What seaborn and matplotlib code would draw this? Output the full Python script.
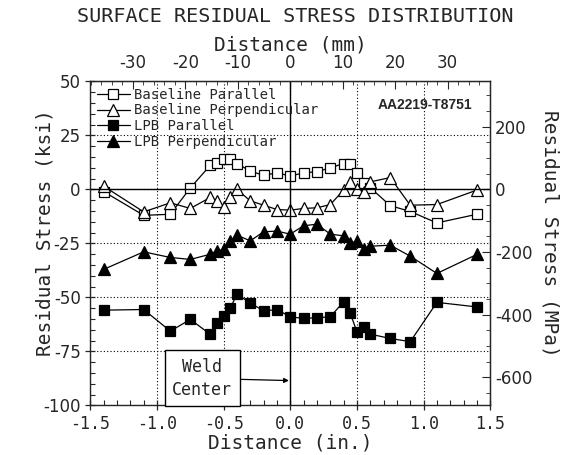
import numpy as np
import pandas as pd
import matplotlib
matplotlib.use('Agg')
import matplotlib.pyplot as plt
import seaborn as sns
from matplotlib.ticker import MultipleLocator, FixedLocator

# Dados (distancia em polegadas, tensao em ksi)
x_bp = [-1.4, -1.1, -0.9, -0.75, -0.6, -0.55, -0.5, -0.45, -0.4, -0.3, -0.2, -0.1, 0.0,
        0.1, 0.2, 0.3, 0.4, 0.45, 0.5, 0.55, 0.6, 0.75, 0.9, 1.1, 1.4]
y_bp = [-1.0, -12.0, -11.5, 0.7, 11.2, 12.3, 13.9, 13.9, 12.0, 8.5, 6.5, 7.7, 6.2,
        7.7, 8.2, 10.0, 12.0, 12.0, 7.7, 2.8, 0.8, -7.5, -10.2, -15.5, -11.5]

x_bperp = [-1.4, -1.1, -0.9, -0.75, -0.6, -0.55, -0.5, -0.45, -0.4, -0.3, -0.2, -0.1, 0.0,
           0.1, 0.2, 0.3, 0.4, 0.45, 0.5, 0.55, 0.6, 0.75, 0.9, 1.1, 1.4]
y_bperp = [1.5, -10.4, -6.2, -8.8, -3.7, -5.3, -8.0, -3.7, 0.0, -5.3, -7.3, -9.3, -9.6,
           -8.8, -8.5, -7.0, -0.3, 3.5, 0.3, -1.1, 3.5, 5.5, -7.3, -7.0, -0.3]

x_lp = [-1.4, -1.1, -0.9, -0.75, -0.6, -0.55, -0.5, -0.45, -0.4, -0.3, -0.2, -0.1, 0.0,
        0.1, 0.2, 0.3, 0.4, 0.45, 0.5, 0.55, 0.6, 0.75, 0.9, 1.1, 1.4]
y_lp = [-55.9, -55.6, -65.6, -60.2, -67.1, -61.7, -58.7, -54.8, -48.6, -52.5, -56.3, -55.6, -59.0,
        -59.7, -59.4, -59.0, -52.0, -57.4, -65.9, -63.6, -67.0, -69.0, -70.5, -52.3, -54.4]

x_lperp = [-1.4, -1.1, -0.9, -0.75, -0.6, -0.55, -0.5, -0.45, -0.4, -0.3, -0.2, -0.1, 0.0,
           0.1, 0.2, 0.3, 0.4, 0.45, 0.5, 0.55, 0.6, 0.75, 0.9, 1.1, 1.4]
y_lperp = [-37.0, -28.9, -31.5, -32.4, -30.0, -28.4, -27.8, -23.8, -21.2, -23.8, -19.6, -19.3, -20.7,
           -16.8, -16.1, -20.7, -21.5, -25.0, -23.8, -27.8, -26.3, -25.8, -30.9, -38.9, -30.1]

# ticks dos eixos secundarios
mm_ticks = [-30, -20, -10, 0, 10, 20, 30]
mpa_ticks = [-600, -400, -200, 0, 200]

series = [
    ('Baseline Parallel', x_bp, y_bp, 's', 'white', 7),
    ('Baseline Perpendicular', x_bperp, y_bperp, '^', 'white', 8),
    ('LPB Parallel', x_lp, y_lp, 's', 'black', 7),
    ('LPB Perpendicular', x_lperp, y_lperp, '^', 'black', 8),
]

sns.set_style('ticks')
mono = 'DejaVu Sans Mono'
plt.rcParams['font.family'] = ['DejaVu Sans']
plt.rcParams['axes.unicode_minus'] = False

fig = plt.figure(figsize=(5.72, 4.55), dpi=100)
ax = fig.add_axes([0.158, 0.109, 0.699, 0.712])

for nome, xs, ys, mk, fc, ms in series:
    df = pd.DataFrame({'x': xs, 'y': ys})
    sns.lineplot(data=df, x='x', y='y', ax=ax, sort=False, estimator=None,
                 color='black', linewidth=0.9, marker=mk, markersize=ms,
                 markerfacecolor=fc, markeredgecolor='black', markeredgewidth=0.9,
                 label=nome)

ax.set_xlim(-1.5, 1.5)
ax.set_ylim(-100, 50)
ax.xaxis.set_major_locator(MultipleLocator(0.5))
ax.xaxis.set_minor_locator(MultipleLocator(0.1))
ax.yaxis.set_major_locator(MultipleLocator(25))
ax.yaxis.set_minor_locator(MultipleLocator(5))
ax.set_xticks(ax.get_xticks())
ax.set_xticklabels([f'{v:.1f}' for v in ax.get_xticks()], family=mono, fontsize=12)
ax.set_xlim(-1.5, 1.5)
ax.tick_params(axis='y', labelsize=12)
ax.tick_params(which='major', direction='inout', length=7, width=0.9)
ax.tick_params(which='minor', direction='in', length=3.5, width=0.8)
ax.grid(True, which='major', linestyle=(0, (1, 2)), color='black', linewidth=0.8)
ax.axhline(0, color='black', linewidth=1.0)
ax.axvline(0, color='black', linewidth=1.0)

ax.set_xlabel('Distance (in.)', family=mono, fontsize=14, labelpad=0)
ax.set_ylabel('')

# eixo superior em mm
sec_x = ax.secondary_xaxis('top', functions=(lambda v: v * 25.4, lambda v: v / 25.4))
sec_x.xaxis.set_major_locator(FixedLocator(mm_ticks))
sec_x.xaxis.set_minor_locator(FixedLocator(list(range(-38, 39, 2))))
sec_x.tick_params(which='major', direction='in', length=6, labelsize=12, pad=7)
sec_x.tick_params(which='minor', direction='in', length=3)
sec_x.set_xlabel('Distance (mm)', family=mono, fontsize=14, labelpad=2)

# eixo direito em MPa
sec_y = ax.secondary_yaxis('right', functions=(lambda v: v * 6.895, lambda v: v / 6.895))
sec_y.yaxis.set_major_locator(FixedLocator(mpa_ticks))
sec_y.yaxis.set_minor_locator(FixedLocator(list(range(-650, 301, 50))))
sec_y.tick_params(which='major', direction='in', length=6, labelsize=12)
sec_y.tick_params(which='minor', direction='in', length=3)

# rotulos verticais
fig.text(45 / 572, 1 - 233 / 455, 'Residual Stress (ksi)', rotation=90,
         ha='center', va='center', family=mono, fontsize=14)
fig.text(550 / 572, 1 - 233 / 455, 'Residual Stress (MPa)', rotation=270,
         ha='center', va='center', family=mono, fontsize=14)

for s in ax.spines.values():
    s.set_linewidth(1.0)

leg = ax.legend(loc='upper left', frameon=False, prop={'family': mono, 'size': 10},
                handlelength=2.4, handletextpad=0.3, labelspacing=0.12,
                borderaxespad=0.2, borderpad=0.25)

ax.text(0.955, 0.927, 'AA2219-T8751', transform=ax.transAxes, ha='right', va='center',
        fontsize=10, fontweight='bold', family='Liberation Sans')

ax.annotate('Weld\nCenter', xy=(-0.01, -88.5), xytext=(-0.66, -87.5),
            ha='center', va='center', family=mono, fontsize=12, linespacing=1.35,
            bbox=dict(boxstyle='square,pad=0.45', fc='white', ec='black', lw=1.0),
            arrowprops=dict(arrowstyle='-|>', color='black', lw=0.9,
                            mutation_scale=7, shrinkA=0, shrinkB=0))

fig.text(0.516, 1 - 16.5 / 455, 'SURFACE RESIDUAL STRESS DISTRIBUTION', ha='center', va='center',
         family=mono, fontsize=14.5)

fig.savefig('out.png', dpi=100)
